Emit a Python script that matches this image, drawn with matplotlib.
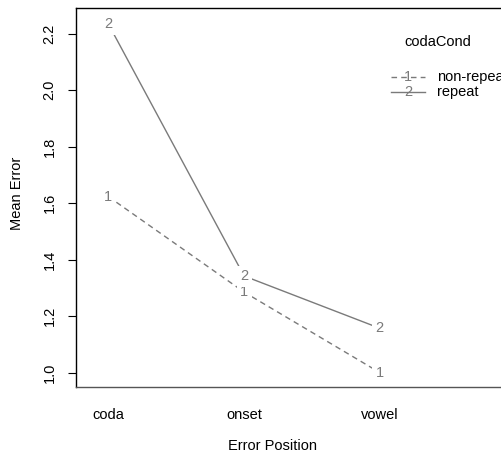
import matplotlib
matplotlib.use("Agg")
import matplotlib.pyplot as plt

plt.rcParams['font.family'] = ['Liberation Sans', 'DejaVu Sans']

# data
positions = ['coda', 'onset', 'vowel']
non_repeat = [1.623, 1.285, 1.0]
repeat = [2.234, 1.342, 1.157]
groups = ['non-repeat', 'repeat']
W, H = 501, 455
gray = '#7a7a7a'

fig = plt.figure(figsize=(W / 100, H / 100), dpi=100)
# axes box in pixels: left 76, top 8, bottom 387, right runs off the image
ax = fig.add_axes([76 / W, (H - 387) / H, 430 / W, 379 / H])

x = [1, 2, 3]
for vals, ls, mark in [(non_repeat, (0, (4, 3)), '1'), (repeat, '-', '2')]:
    ax.plot(x, vals, color=gray, lw=1, ls=ls, zorder=1)
    for xi, yi in zip(x, vals):
        ax.text(xi, yi, mark, color=gray, fontsize=10.5, ha='center', va='center',
                zorder=3, bbox=dict(facecolor='white', edgecolor='none', pad=2.5))

ax.set_xlim(0.761, 3.93)
ax.set_ylim(0.949, 2.291)
ax.set_xticks(x)
ax.set_xticklabels(positions)
ax.set_yticks([1.0, 1.2, 1.4, 1.6, 1.8, 2.0, 2.2])
ax.set_yticklabels(['1.0', '1.2', '1.4', '1.6', '1.8', '2.0', '2.2'], rotation=90, va='center')
ax.tick_params(axis='x', length=0, pad=15, labelsize=10.5)
ax.tick_params(axis='y', length=6, pad=8, labelsize=10.5)
for s in ax.spines.values():
    s.set_linewidth(1)
ax.spines['bottom'].set_color('#555555')

fig.text((76 + 430 / 2 - 18) / W, 1 - 446 / H, 'Error Position', ha='center', va='center', fontsize=10.5)
fig.text(17 / W, 1 - 193 / H, 'Mean Error', ha='center', va='center', rotation=90, fontsize=10.5)

# legend drawn by hand in figure pixels
fig.text(438 / W, 1 - 42 / H, 'codaCond', ha='center', va='center', fontsize=10.5)
for i, (g, ls, mark) in enumerate(zip(groups, [(0, (4, 3)), '-'], ['1', '2'])):
    yy = 1 - (77 + 15 * i) / H
    fig.add_artist(plt.Line2D([391 / W, 425 / W], [yy, yy], color=gray, lw=1, ls=ls))
    fig.text(408 / W, yy, mark, color=gray, ha='center', va='center', fontsize=10.5)
    fig.text(437 / W, yy, g, ha='left', va='center', fontsize=10.5)

fig.savefig('out.png', dpi=100)
